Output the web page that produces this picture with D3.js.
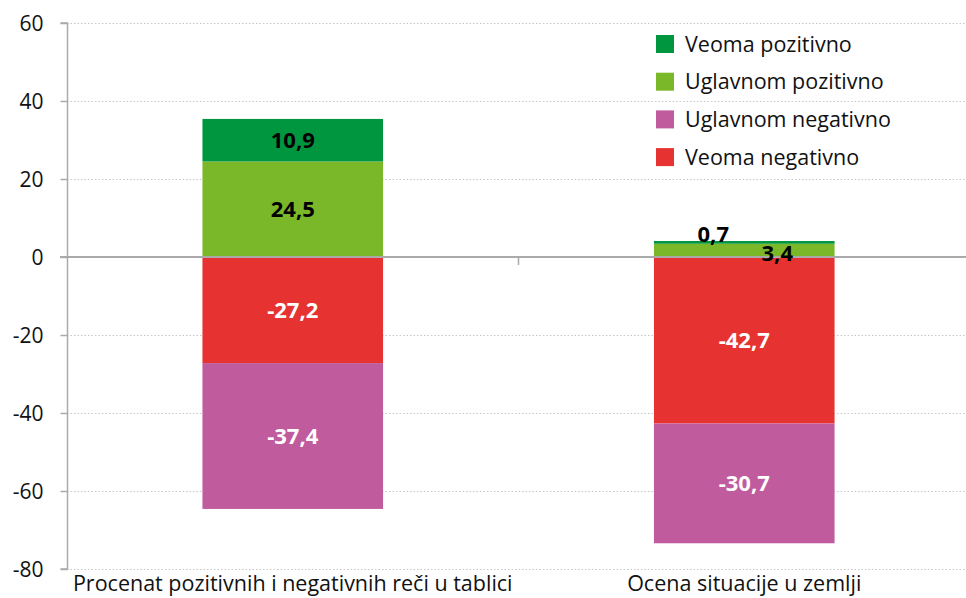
<!DOCTYPE html>
<html><head><meta charset="utf-8">
<script src="https://cdnjs.cloudflare.com/ajax/libs/d3/7.8.5/d3.min.js"></script>
<style>body{margin:0;background:#fff}svg{display:block}</style>
</head><body>
<script>
const categories = ["Procenat pozitivnih i negativnih reči u tablici", "Ocena situacije u zemlji"];
const seriesNames = ["Veoma pozitivno", "Uglavnom pozitivno", "Uglavnom negativno", "Veoma negativno"];
const veomaPozitivno = [10.9, 0.7];
const uglavnomPozitivno = [24.5, 3.4];
const veomaNegativno = [-27.2, -42.7];
const uglavnomNegativno = [-37.4, -30.7];
const yTicks = [60, 40, 20, 0, -20, -40, -60, -80];
const colors = {"Veoma pozitivno":"#009640","Uglavnom pozitivno":"#7ab829","Uglavnom negativno":"#c05b9e","Veoma negativno":"#e63331"};

const W = 966, H = 598;
const font = "'Open Sans', 'Noto Sans', sans-serif";
const svg = d3.select("body").append("svg").attr("width", W).attr("height", H);

const y = d3.scaleLinear().domain([-80, 60]).range([569, 23]);
const x = d3.scaleBand().domain(categories).range([67, 970]).paddingInner(0.6).paddingOuter(0.3);

// gridlines
svg.append("g").selectAll("line").data(yTicks.filter(t => t !== 0)).join("line")
  .attr("x1", 67).attr("x2", W).attr("y1", d => y(d) + 0.5).attr("y2", d => y(d) + 0.5)
  .attr("stroke", "#c8c8c8").attr("stroke-width", 1.2).attr("stroke-dasharray", "1.5,2");

// y axis
const yAxis = d3.axisLeft(y).tickValues(yTicks).tickSize(7).tickFormat(d3.format("d"));
const ga = svg.append("g").attr("transform", "translate(67.5,0)").call(yAxis);
ga.select(".domain").attr("stroke", "#aaa").attr("stroke-width", 1.5).attr("d", `M-7,${y(60)}H0V${y(-80)}H-7`);
ga.selectAll(".tick line").attr("stroke", "#aaa").attr("stroke-width", 1.5);
ga.selectAll(".tick text").attr("font-family", font).attr("font-size", 21).attr("fill", "#111").attr("x", -24).attr("dy", "0.35em")
  .text(d => d < 0 ? "-" + Math.abs(d) : d);

// stacks
const stacks = [
  {name: "Uglavnom pozitivno", vals: uglavnomPozitivno, base: () => 0},
  {name: "Veoma pozitivno", vals: veomaPozitivno, base: i => uglavnomPozitivno[i]},
  {name: "Veoma negativno", vals: veomaNegativno, base: () => 0},
  {name: "Uglavnom negativno", vals: uglavnomNegativno, base: i => veomaNegativno[i]}
];
stacks.forEach(s => {
  categories.forEach((c, i) => {
    const y0 = s.base(i), y1 = y0 + s.vals[i];
    svg.append("rect").attr("x", x(c)).attr("width", x.bandwidth())
      .attr("y", y(Math.max(y0, y1))).attr("height", Math.abs(y(y0) - y(y1)))
      .attr("fill", colors[s.name]);
  });
});

// zero line
svg.append("line").attr("x1", 60).attr("x2", W).attr("y1", y(0)).attr("y2", y(0)).attr("stroke", "#aaa").attr("stroke-width", 2);
// category separator tick
const sepX = (x(categories[0]) + x.bandwidth() + x(categories[1])) / 2;
svg.append("line").attr("x1", sepX).attr("x2", sepX)
  .attr("y1", y(0)).attr("y2", y(0) + 8).attr("stroke", "#aaa").attr("stroke-width", 1.5);

// value labels
const fmt = v => String(v).replace(".", ",");
const labels = [];
stacks.forEach(s => categories.forEach((c, i) => {
  const y0 = s.base(i), y1 = y0 + s.vals[i];
  labels.push({v: s.vals[i], cx: x(c) + x.bandwidth() / 2, cy: y((y0 + y1) / 2), neg: s.vals[i] < 0, small: Math.abs(s.vals[i]) < 5, name: s.name});
}));
labels.forEach(l => {
  let cx = l.cx, cy = l.cy;
  if (l.small) {
    if (l.name === "Veoma pozitivno") { cx = l.cx - 31; cy = y(0) - 23; }
    else { cx = l.cx + 33; cy = y(0) - 4; }
  }
  svg.append("text").attr("x", cx).attr("y", cy).attr("dy", "0.36em").attr("text-anchor", "middle")
    .attr("font-family", font).attr("font-weight", "bold").attr("font-size", 22)
    .attr("fill", l.neg ? "#fff" : "#000").text(fmt(l.v));
});

// category labels
svg.append("g").selectAll("text").data(categories).join("text")
  .attr("x", d => x(d) + x.bandwidth() / 2).attr("y", 591).attr("text-anchor", "middle")
  .attr("font-family", font).attr("font-size", 21.5).attr("fill", "#111").text(d => d);

// legend
const lg = svg.append("g");
seriesNames.forEach((n, i) => {
  const yy = 44 + i * 37.7;
  lg.append("rect").attr("x", 656).attr("y", yy - 9).attr("width", 18).attr("height", 18).attr("fill", colors[n]);
  lg.append("text").attr("x", 685).attr("y", yy).attr("dy", "0.35em").attr("font-family", font).attr("font-size", 21.5).attr("fill", "#111").text(n);
});
</script>
</body></html>
